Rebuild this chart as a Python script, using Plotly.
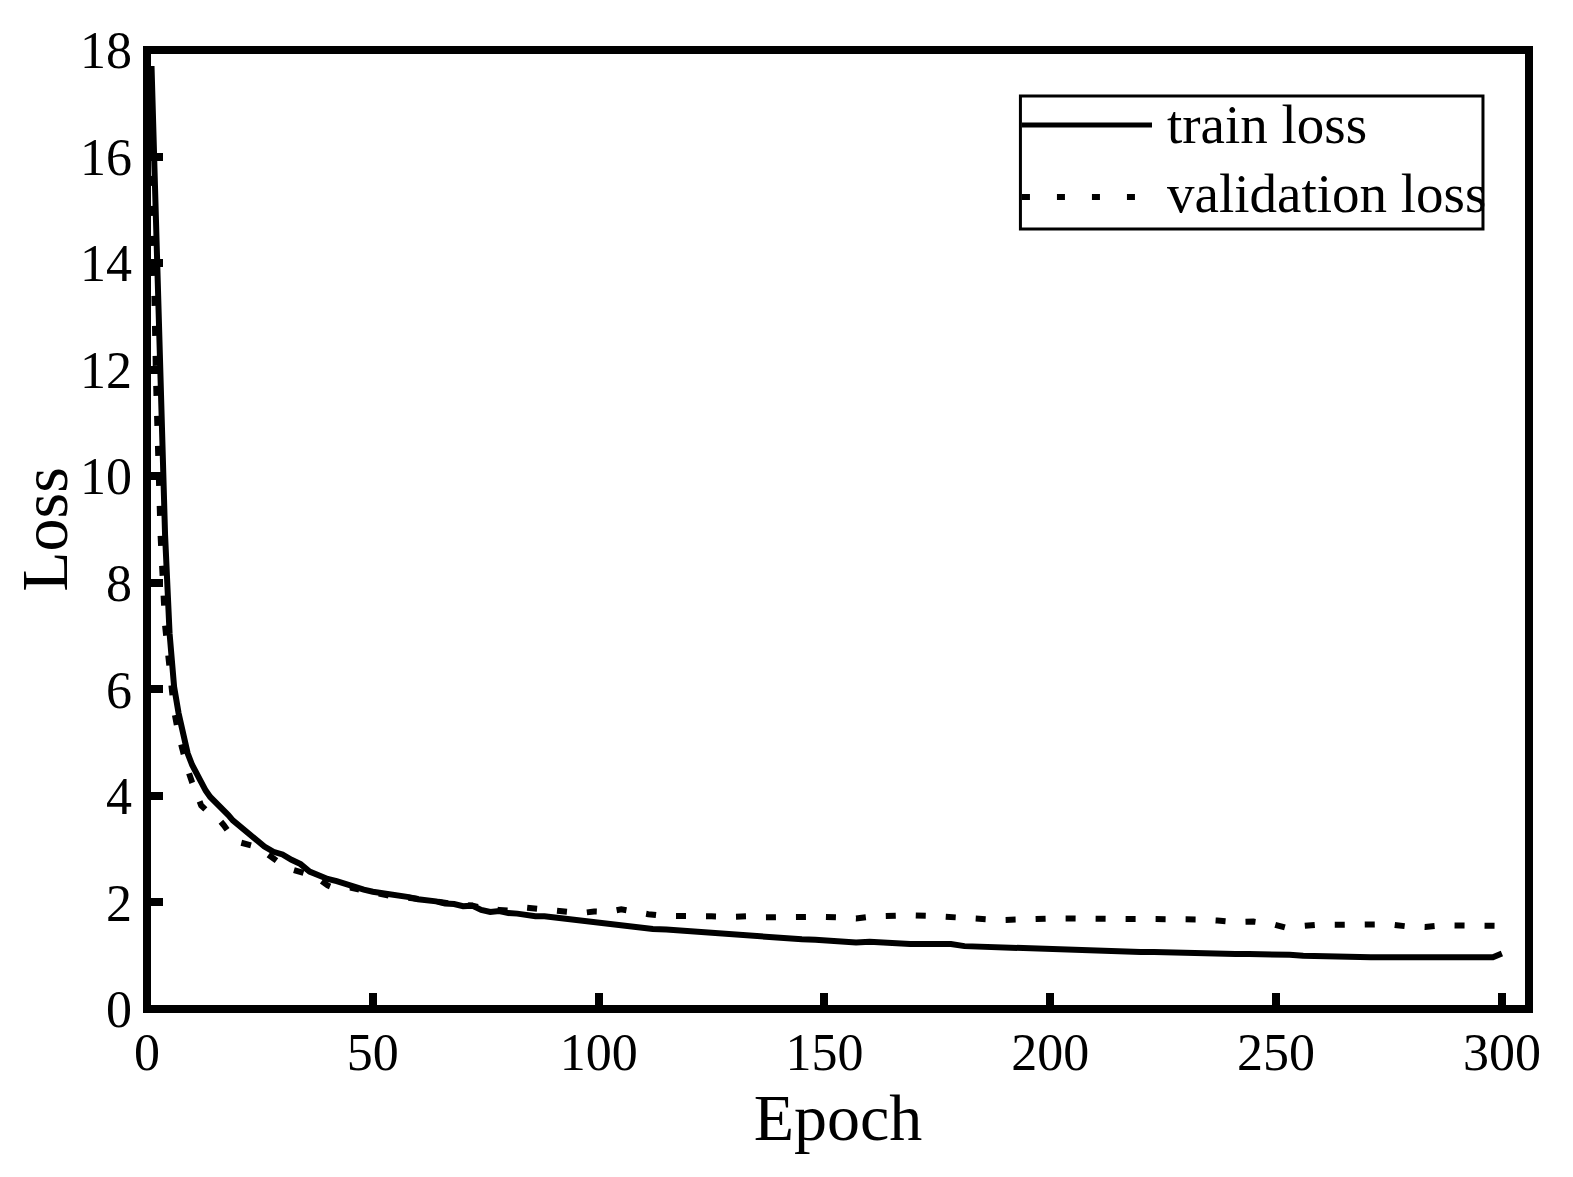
import plotly.graph_objects as go

# ---- data ----
train_epochs = [1, 2, 3, 4, 5, 6, 7, 8, 9, 10, 11, 12, 13, 14, 15, 16, 17, 18, 19, 20,
                22, 24, 26, 28, 30, 32, 34, 36, 38, 40, 42, 44, 46, 48, 50, 52, 54, 56, 58, 60,
                62, 64, 66, 68, 70, 72, 74, 76, 78, 80, 82, 84, 86, 88, 90, 92, 94, 96, 98, 100,
                103, 106, 109, 112, 115, 118, 121, 124, 127, 130, 133, 136, 139, 142, 145, 148,
                151, 154, 157, 160, 163, 166, 169, 172, 175, 178, 181, 184, 187, 190, 193, 196,
                199, 202, 205, 208, 211, 214, 217, 220, 223, 226, 229, 232, 235, 238, 241, 244,
                247, 250, 253, 256, 259, 262, 265, 268, 271, 274, 277, 280, 283, 286, 289, 292,
                295, 298, 300]
train_loss = [17.70, 14.60, 11.60, 8.90, 7.05, 6.05, 5.55, 5.10, 4.80, 4.58, 4.40, 4.24, 4.10,
              3.98, 3.90, 3.82, 3.75, 3.64, 3.54, 3.47,
              3.33, 3.22, 3.05, 2.95, 2.90, 2.80, 2.72, 2.58, 2.50, 2.44, 2.40, 2.34, 2.30, 2.24,
              2.20, 2.18, 2.14, 2.12, 2.10, 2.06,
              2.05, 2.02, 1.98, 1.97, 1.93, 1.94, 1.86, 1.82, 1.84, 1.80, 1.79, 1.76, 1.74, 1.74,
              1.72, 1.70, 1.68, 1.66, 1.64, 1.62,
              1.60, 1.55, 1.52, 1.50, 1.49, 1.47, 1.46, 1.44, 1.42, 1.40, 1.38, 1.36, 1.35, 1.32,
              1.31, 1.30,
              1.28, 1.26, 1.25, 1.26, 1.24, 1.23, 1.22, 1.22, 1.23, 1.22, 1.18, 1.17, 1.17, 1.16,
              1.15, 1.14,
              1.12, 1.11, 1.12, 1.11, 1.10, 1.09, 1.08, 1.07, 1.07, 1.06, 1.05, 1.05, 1.04, 1.04,
              1.03, 1.03,
              1.03, 1.02, 1.02, 1.00, 0.99, 0.98, 0.98, 0.98, 0.97, 0.97, 0.97, 0.97, 0.97, 0.97,
              0.97, 0.97,
              0.97, 0.97, 1.04]

val_epochs = [1, 2, 3, 4, 5, 6, 7, 8, 9, 10, 11, 12, 13, 14, 15, 16, 17, 18, 19, 20,
              22, 24, 26, 28, 30, 32, 34, 36, 38, 40, 42, 45, 48, 51, 54, 57, 60, 63, 66, 69,
              72, 75, 78, 81, 84, 87, 90, 93, 96, 99, 102, 105, 108, 111, 114, 117, 121, 125,
              129, 133, 137, 141, 145, 149, 153, 157, 161, 165, 169, 173, 177, 181, 185, 189,
              193, 197, 201, 205, 209, 213, 217, 221, 225, 229, 233, 237, 241, 245, 249, 252,
              255, 259, 263, 267, 271, 275, 279, 283, 287, 291, 295, 299]
val_loss = [16.20, 11.80, 8.90, 7.20, 6.40, 5.60, 5.15, 4.80, 4.50, 4.25, 4.00, 3.82, 3.74,
            3.68, 3.62, 3.55, 3.45, 3.33, 3.22, 3.14,
            3.10, 3.05, 2.95, 2.82, 2.70, 2.62, 2.58, 2.52, 2.44, 2.32, 2.25, 2.28, 2.22, 2.16,
            2.12, 2.10, 2.06, 2.03, 1.99, 1.96,
            1.94, 1.88, 1.86, 1.84, 1.90, 1.88, 1.84, 1.82, 1.80, 1.83, 1.82, 1.87, 1.82, 1.78,
            1.75, 1.74, 1.74, 1.74,
            1.73, 1.74, 1.72, 1.73, 1.74, 1.73, 1.72, 1.70, 1.74, 1.76, 1.76, 1.75, 1.73, 1.70,
            1.67, 1.67,
            1.68, 1.70, 1.70, 1.70, 1.69, 1.68, 1.69, 1.69, 1.69, 1.68, 1.68, 1.66, 1.63, 1.64,
            1.60, 1.53,
            1.56, 1.58, 1.58, 1.58, 1.59, 1.59, 1.55, 1.54, 1.57, 1.56, 1.56, 1.56]

x_ticks = [0, 50, 100, 150, 200, 250, 300]
y_ticks = [0, 2, 4, 6, 8, 10, 12, 14, 16, 18]
series_names = ["train loss", "validation loss"]
x_title = "Epoch"
y_title = "Loss"

FONT = "Liberation Serif, Times New Roman, serif"

fig = go.Figure()
fig.add_trace(go.Scatter(x=train_epochs, y=train_loss, mode="lines", name=series_names[0],
                         line=dict(color="black", width=6), showlegend=False))
fig.add_trace(go.Scatter(x=val_epochs, y=val_loss, mode="lines", name=series_names[1],
                         line=dict(color="black", width=6, dash="10px,20px"), showlegend=False))

# frame around the plot area
fig.add_shape(type="rect", xref="paper", yref="paper", x0=0, x1=1, y0=0, y1=1,
              line=dict(color="black", width=8), layer="above")

# legend box drawn by hand (long line samples like the reference)
fig.add_shape(type="rect", xref="paper", yref="paper", x0=0.632, x1=0.9667, y0=0.8133, y1=0.952,
              line=dict(color="black", width=3), fillcolor="white", layer="above")
fig.add_shape(type="line", xref="paper", yref="paper", x0=0.6331, x1=0.7272, y0=0.9218, y1=0.9218,
              line=dict(color="black", width=5), layer="above")
fig.add_shape(type="line", xref="paper", yref="paper", x0=0.6331, x1=0.7155, y0=0.8467, y1=0.8467,
              line=dict(color="black", width=6, dash="8px,27px"), layer="above")
for name, yy in zip(series_names, [0.9228, 0.8505]):
    fig.add_annotation(xref="paper", yref="paper", x=0.7366, y=yy, xanchor="left", yanchor="middle",
                       text=name, showarrow=False, font=dict(family=FONT, size=55, color="black"))

# the page body has an 8px default margin, so the figure is 8px smaller and margins shifted
fig.update_layout(
    width=1565, height=1169,
    margin=dict(l=139, r=44, t=42, b=168),
    paper_bgcolor="white", plot_bgcolor="white",
    font=dict(family=FONT, color="black"),
    showlegend=False,
)
fig.update_xaxes(range=[0, 306], tickvals=x_ticks, ticktext=[str(v) for v in x_ticks],
                 ticks="inside", ticklen=16, tickwidth=8, tickcolor="black",
                 showgrid=False, zeroline=False, showline=False,
                 tickfont=dict(family=FONT, size=52, color="black"), ticklabelstandoff=8,
                 title=dict(text=x_title, font=dict(family=FONT, size=66, color="black"), standoff=0))
fig.update_yaxes(range=[0, 18], tickvals=y_ticks, ticktext=[str(v) for v in y_ticks],
                 ticks="inside", ticklen=16, tickwidth=8, tickcolor="black",
                 showgrid=False, zeroline=False, showline=False,
                 tickfont=dict(family=FONT, size=52, color="black"), ticklabelstandoff=14,
                 title=dict(text=y_title, font=dict(family=FONT, size=66, color="black"), standoff=0))

fig.write_html("out.html")
